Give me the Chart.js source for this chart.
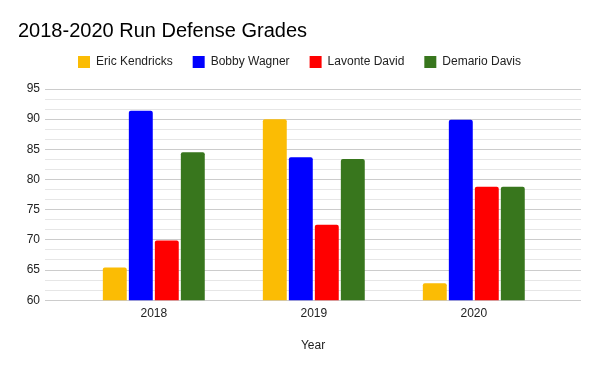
<!DOCTYPE html>
<html>
<head>
<meta charset="utf-8">
<script src="https://cdn.jsdelivr.net/npm/chart.js@4"></script>
<style>
  html, body { margin: 0; padding: 0; background: #fff; }
  #wrap { width: 600px; height: 371px; }
</style>
</head>
<body>
<div id="wrap"><canvas id="gradesChart"></canvas></div>
<script>
// values
const years = [2018, 2019, 2020];
const ericKendricks = [65.4, 90.0, 62.8];
const bobbyWagner = [91.4, 83.7, 89.9];
const lavonteDavid = [69.9, 72.5, 78.8];
const demarioDavis = [84.5, 83.4, 78.8];
const yTickLabels = [60, 65, 70, 75, 80, 85, 90, 95];
const minorPerMajor = 2; // two light lines between labelled ones

const FONT = "Arial, 'Liberation Sans', sans-serif";

// full list of gridline values (major + minor)
const gridValues = [];
for (let i = 0; i < yTickLabels.length; i++) {
  gridValues.push(yTickLabels[i]);
  if (i < yTickLabels.length - 1) {
    const step = (yTickLabels[i + 1] - yTickLabels[i]) / (minorPerMajor + 1);
    for (let k = 1; k <= minorPerMajor; k++) gridValues.push(yTickLabels[i] + step * k);
  }
}
const isMajor = v => yTickLabels.some(t => Math.abs(t - v) < 1e-6);

// extra room under the legend
const legendGap = {
  id: 'legendGap',
  beforeInit(chart) {
    const fit = chart.legend.fit;
    chart.legend.fit = function () {
      fit.bind(chart.legend)();
      this.height += 11;
    };
  }
};

const ctx = document.getElementById('gradesChart').getContext('2d');

const gradeData = {
  labels: years,
  datasets: [
    { label: 'Eric Kendricks', data: ericKendricks, backgroundColor: '#fbbc04' },
    { label: 'Bobby Wagner', data: bobbyWagner, backgroundColor: '#0000ff' },
    { label: 'Lavonte David', data: lavonteDavid, backgroundColor: '#ff0000' },
    { label: 'Demario Davis', data: demarioDavis, backgroundColor: '#38761d' }
  ]
};

const config = {
  type: 'bar',
  data: gradeData,
  plugins: [legendGap],
  options: {
    responsive: true,
    maintainAspectRatio: false,
    animation: false,
    categoryPercentage: 0.65,
    barPercentage: 0.92,
    borderRadius: 2,
    layout: { padding: { top: 10, left: 18, right: 19, bottom: 18 } },
    plugins: {
      title: {
        display: true,
        text: '2018-2020 Run Defense Grades',
        align: 'start',
        color: '#000',
        font: { family: FONT, size: 20, weight: 'normal', lineHeight: 1 },
        padding: { top: 11, bottom: -5 }
      },
      legend: {
        position: 'top',
        labels: {
          boxWidth: 12,
          boxHeight: 12,
          padding: 20,
          color: '#222',
          font: { family: FONT, size: 12 }
        }
      },
      tooltip: { enabled: false }
    },
    scales: {
      x: {
        type: 'linear',
        offset: false,
        min: years[0] - 0.68,
        max: years[years.length - 1] + 0.67,
        afterBuildTicks: axis => { axis.ticks = years.map(v => ({ value: v })); },
        grid: { display: false, drawTicks: false, offset: false },
        border: { display: false },
        ticks: {
          color: '#222',
          font: { family: FONT, size: 12 },
          padding: 6,
          callback: v => String(v)
        },
        title: {
          display: true,
          text: 'Year',
          color: '#222',
          font: { family: FONT, size: 12 },
          padding: { top: 12, bottom: 0 }
        }
      },
      y: {
        min: yTickLabels[0],
        max: yTickLabels[yTickLabels.length - 1],
        afterBuildTicks: axis => { axis.ticks = gridValues.map(v => ({ value: v })); },
        afterFit: axis => { axis.width = 27; },
        border: { display: false },
        grid: {
          drawTicks: false,
          lineWidth: 1,
          color: c => (c.tick && isMajor(c.tick.value)) ? '#cccccc' : '#e6e6e6'
        },
        ticks: {
          color: '#222',
          font: { family: FONT, size: 12 },
          padding: 5,
          autoSkip: false,
          callback: v => isMajor(v) ? String(Math.round(v)) : ''
        }
      }
    }
  }
};

new Chart(ctx, config);
</script>
</body>
</html>
